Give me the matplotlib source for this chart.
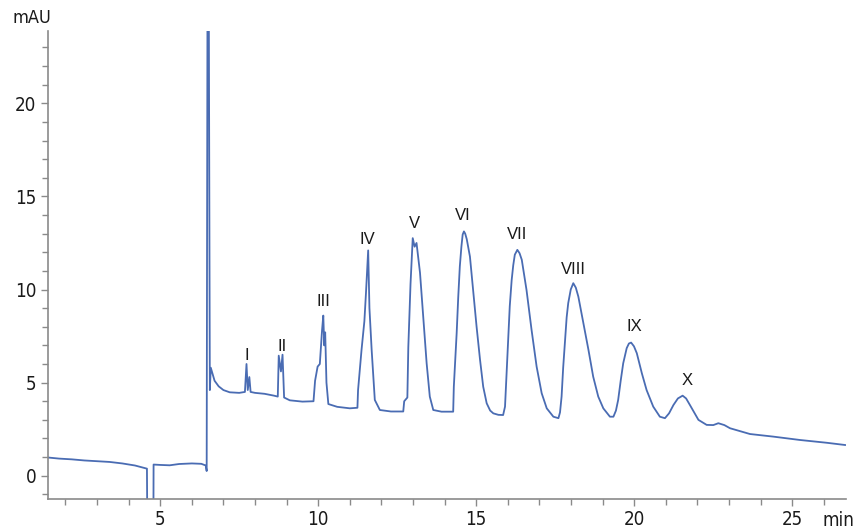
import matplotlib
matplotlib.use('Agg')
import matplotlib.pyplot as plt
from matplotlib.ticker import MultipleLocator
from matplotlib import font_manager

# retention time (min) and absorbance (mAU)
time = [1.44, 1.8, 2.2, 2.6, 3.0, 3.4, 3.8, 4.2, 4.5, 4.58, 4.60, 4.78, 4.79,
        5.0, 5.3, 5.6, 6.0, 6.3, 6.44, 6.47, 6.50, 6.53, 6.57, 6.60, 6.65,
        6.72, 6.85, 7.0, 7.2, 7.5, 7.68, 7.73, 7.77, 7.82, 7.86, 8.0, 8.3,
        8.6, 8.72, 8.75, 8.82, 8.87, 8.92, 9.1, 9.5, 9.85, 9.9, 9.98, 10.05,
        10.12, 10.16, 10.19, 10.22, 10.26, 10.32, 10.6, 11.0, 11.24, 11.26,
        11.37, 11.46, 11.51, 11.58, 11.62, 11.69, 11.79, 11.95, 12.3, 12.69,
        12.72, 12.82, 12.85, 12.92, 12.99, 13.05, 13.11, 13.22, 13.32, 13.43,
        13.53, 13.64, 13.9, 14.27, 14.29, 14.33, 14.38, 14.43, 14.48, 14.53,
        14.57, 14.61, 14.65, 14.70, 14.80, 14.90, 15.01, 15.12, 15.22, 15.33,
        15.44, 15.54, 15.7, 15.85, 15.91, 15.96, 16.01, 16.06, 16.12, 16.17,
        16.22, 16.30, 16.37, 16.44, 16.59, 16.75, 16.91, 17.07, 17.23, 17.44,
        17.60, 17.65, 17.70, 17.75, 17.81, 17.86, 17.91, 17.99, 18.07, 18.15,
        18.23, 18.39, 18.55, 18.70, 18.86, 19.02, 19.23, 19.34, 19.42, 19.49,
        19.57, 19.65, 19.76, 19.83, 19.90, 19.99, 20.08, 20.24, 20.39, 20.60,
        20.81, 20.97, 21.1, 21.24, 21.38, 21.53, 21.64, 21.76, 22.03, 22.29,
        22.5, 22.66, 22.85, 23.03, 23.66, 24.40, 25.24, 26.09, 26.67]
signal = [0.98, 0.92, 0.88, 0.82, 0.78, 0.74, 0.66, 0.55, 0.42, 0.38, -5.0, -5.0, 0.60,
          0.58, 0.56, 0.63, 0.66, 0.64, 0.55, 0.25, 30.0, 30.0, 4.6, 5.8, 5.5,
          5.1, 4.8, 4.6, 4.48, 4.45, 4.5, 6.0, 4.6, 5.3, 4.5, 4.45, 4.4,
          4.3, 4.25, 6.45, 5.6, 6.5, 4.2, 4.05, 3.98, 4.0, 5.1, 5.86, 6.0,
          7.8, 8.6, 7.0, 7.7, 5.0, 3.85, 3.7, 3.62, 3.65, 4.6,
          6.76, 8.3, 9.8, 12.1, 9.0, 6.76, 4.07, 3.53, 3.45, 3.45,
          4.0, 4.2, 6.9, 10.3, 12.76, 12.3, 12.5, 10.9, 8.55, 6.04,
          4.25, 3.53, 3.44, 3.44, 4.78, 6.1, 7.66, 9.6, 11.24, 12.3,
          12.95, 13.12, 13.0, 12.7, 11.77, 9.98, 8.01, 6.22, 4.78, 3.89,
          3.5, 3.35, 3.27, 3.26, 3.71, 5.5, 7.29, 9.1, 10.5, 11.3,
          11.87, 12.13, 11.95, 11.6, 9.98, 7.83, 5.86, 4.43, 3.62, 3.17,
          3.09, 3.4, 4.25, 5.8, 7.29, 8.5, 9.27, 10.0, 10.34, 10.1,
          9.62, 8.19, 6.76, 5.32, 4.25, 3.62, 3.17, 3.17, 3.5, 4.07,
          5.1, 6.04, 6.85, 7.1, 7.15, 6.95, 6.58, 5.5, 4.6, 3.71,
          3.17, 3.09, 3.35, 3.8, 4.15, 4.3, 4.15, 3.8, 3.0, 2.73,
          2.72, 2.82, 2.72, 2.55, 2.24, 2.10, 1.92, 1.77, 1.65]

# peak labels and where they sit
peak_names = ['I', 'II', 'III', 'IV', 'V', 'VI', 'VII', 'VIII', 'IX', 'X']
peak_x = [7.74, 8.85, 10.15, 11.57, 13.03, 14.58, 16.29, 18.09, 19.99, 21.66]
peak_y = [6.47, 6.95, 9.34, 12.67, 13.53, 14.0, 12.94, 11.06, 8.0, 5.1]

names = set(f.name for f in font_manager.fontManager.ttflist)
print(sorted(n for n in names if 'Narrow' in n or 'Condensed' in n))

narrow = dict(family='DejaVu Sans', stretch='condensed')
grey = '#8a8a8a'

fig = plt.figure(figsize=(8.55, 5.29), dpi=100)
ax = fig.add_axes([0.0558, 0.0567, 0.9337, 0.8853])

ax.plot(time, signal, color='#4a6cb3', lw=1.3)

for name, x, y in zip(peak_names, peak_x, peak_y):
    ax.text(x, y, name, ha='center', va='center', fontsize=12,
            family=['Liberation Sans', 'DejaVu Sans'], color='#1a1a1a')

ax.set_xlim(1.44, 26.7)
ax.set_ylim(-1.25, 23.9)
ax.xaxis.set_major_locator(MultipleLocator(5))
ax.xaxis.set_minor_locator(MultipleLocator(1))
ax.yaxis.set_major_locator(MultipleLocator(5))
ax.yaxis.set_minor_locator(MultipleLocator(1))

for s in ['top', 'right']:
    ax.spines[s].set_visible(False)
for s in ['left', 'bottom']:
    ax.spines[s].set_color(grey)
    ax.spines[s].set_linewidth(1.2)

ax.tick_params(which='major', length=5, width=1, color=grey, direction='out')
ax.tick_params(which='minor', length=4, width=1, color=grey, direction='out')
ax.tick_params(labelsize=13.5, labelcolor='#1a1a1a', pad=3)
for lab in ax.get_xticklabels() + ax.get_yticklabels():
    lab.set_family(narrow['family'])
    lab.set_stretch(narrow['stretch'])

fig.text(12 / 855, 1 - 18 / 529, 'mAU', ha='left', va='center', fontsize=13,
         color='#1a1a1a', **narrow)
fig.text(838 / 855, 1 - 520 / 529, 'min', ha='center', va='center', fontsize=13.5,
         color='#1a1a1a', **narrow)

fig.savefig('out.png', dpi=100)
